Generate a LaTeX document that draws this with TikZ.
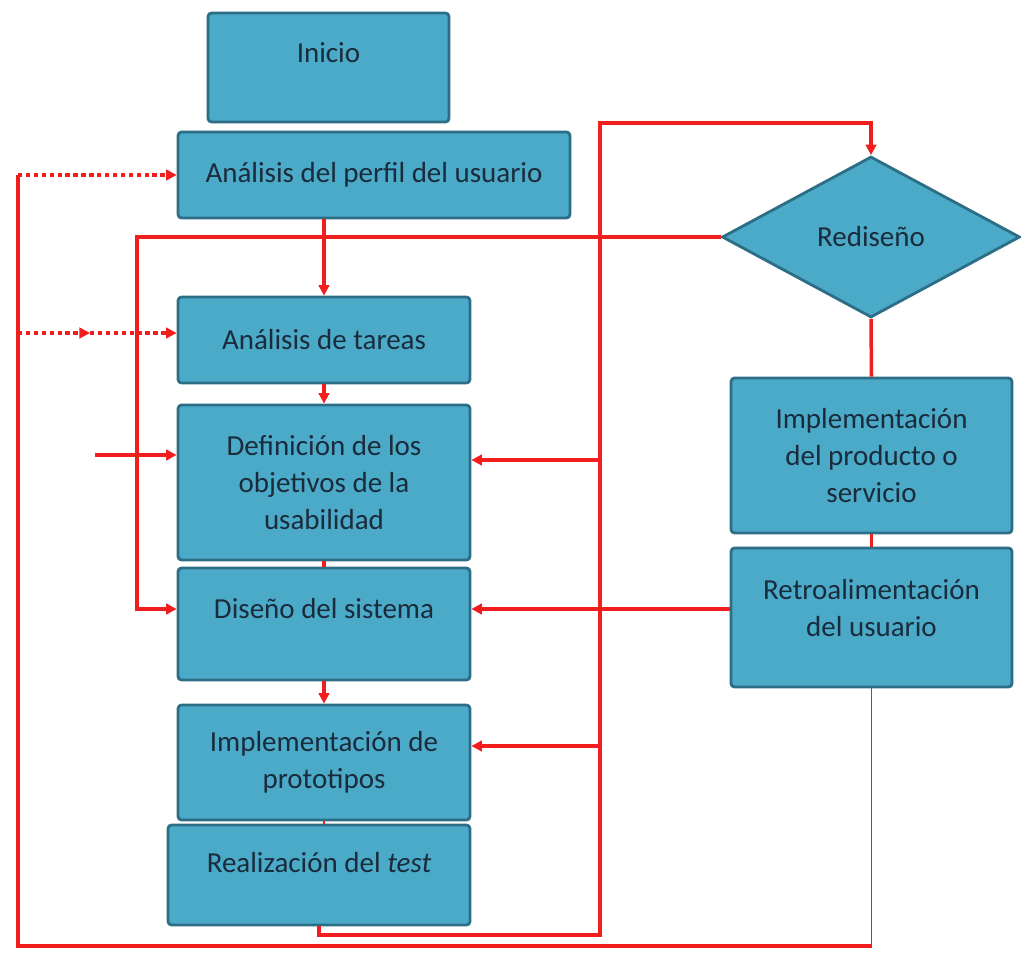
\documentclass[tikz,border=0pt]{standalone}
\usepackage{fontspec}
\setmainfont{Carlito}
\usetikzlibrary{arrows.meta,shapes.geometric}
\definecolor{boxfill}{HTML}{4BAAC8}
\definecolor{boxedge}{HTML}{2D6E87}
\definecolor{boxtext}{HTML}{1A2B3C}
\definecolor{flowred}{HTML}{F21D1D}

\begin{document}
\begin{tikzpicture}[x=0.02cm,y=-0.02cm,>={Triangle[length=6pt,width=6pt]},
    every node/.style={font=\fontsize{16.5}{21}\selectfont,text=boxtext,inner sep=1pt},
    stage/.style={draw=boxedge,line width=1.6pt,fill=boxfill,rounded corners=2pt,align=center},
    choice/.style={diamond,draw=boxedge,line width=1.6pt,fill=boxfill,inner sep=0pt},
    flow/.style={draw=flowred,line width=2pt},
    thinflow/.style={draw=flowred,line width=1.1pt},
    hint/.style={draw=flowred,line width=1.8pt,dash pattern=on 2.5pt off 2pt,->}]
    \useasboundingbox (0,0) rectangle (1021,954);
    % left column
    \node[stage,minimum width=4.82cm,minimum height=2.18cm,text depth=0.58cm] (inicio) at (328.5,67.5) {Inicio};
    \node[stage,minimum width=7.84cm,minimum height=1.72cm] (perfil) at (374,175) {Análisis del perfil del usuario};
    \node[stage,minimum width=5.84cm,minimum height=1.72cm] (tareas) at (324,340) {Análisis de tareas};
    \node[stage,minimum width=5.84cm,minimum height=3.1cm] (objetivos) at (324,482.5) {Definición de los\\objetivos de la\\usabilidad};
    \node[stage,minimum width=5.84cm,minimum height=2.24cm,text depth=0.64cm] (diseno) at (324,624) {Diseño del sistema};
    \node[stage,minimum width=5.84cm,minimum height=2.3cm] (prototipos) at (324,762.5) {Implementación de\\prototipos};
    \node[stage,minimum width=6.04cm,minimum height=2.0cm,text depth=0.52cm] (test) at (319,875) {Realización del \textit{test}};
    % right column
    \node[choice,minimum width=5.96cm,minimum height=3.22cm] (rediseno) at (871,237) {Rediseño};
    \node[stage,minimum width=5.62cm,minimum height=3.1cm] (producto) at (871.5,455.5) {Implementación\\del producto o\\servicio};
    \node[stage,minimum width=5.62cm,minimum height=2.78cm,text depth=0.4cm] (retro) at (871.5,617.5) {Retroalimentación\\del usuario};

    \coordinate (outerS) at (18,946);
    \coordinate (hintMid) at (90,333);
    \coordinate (railL) at (137,237);
    \coordinate (railTop) at (600,123);
    \coordinate (railBot) at (600,935);
    \coordinate (fbY) at (0,609);
    \coordinate (stub) at (95,455);

    % main flow
    \draw[flow,->] (tareas.north |- perfil.south) -- (tareas.north);
    \draw[flow,->] (tareas.south) -- (objetivos.north);
    \draw[flow] (objetivos.south) -- (diseno.north);
    \draw[flow,->] (diseno.south) -- (prototipos.north);
    \draw[thinflow] (prototipos.south) -- (prototipos.south |- test.north);
    \draw[flow] (rediseno.south) -- (producto.north);
    \draw[flow] (producto.south) -- (retro.north);

    % loops
    \draw[flow,->] (test.south) |- (railBot) -- (railTop) -| (rediseno.north);
    \draw[flow,->] (railTop |- 0,460) -- (objetivos.east |- 0,460);
    \draw[flow,->] (railTop |- 0,746) -- (prototipos.east |- 0,746);
    \draw[flow,->] (retro.west |- fbY) -- (diseno.east |- fbY);
    \draw[flow,->] (rediseno.west) -- (railL) |- (diseno.west |- fbY);
    \draw[flow,->] (stub) -- (objetivos.west |- stub);
    \draw[thinflow] (retro.south) -- (retro.south |- outerS);
    \draw[flow,line width=1.8pt] (retro.south |- outerS) -- (outerS) -- (outerS |- perfil.west);
    \draw[hint] (outerS |- perfil.west) -- (perfil.west);
    \draw[hint] (outerS |- hintMid) -- (hintMid);
    \draw[hint] (hintMid) -- (tareas.west |- hintMid);
\end{tikzpicture}
\end{document}
